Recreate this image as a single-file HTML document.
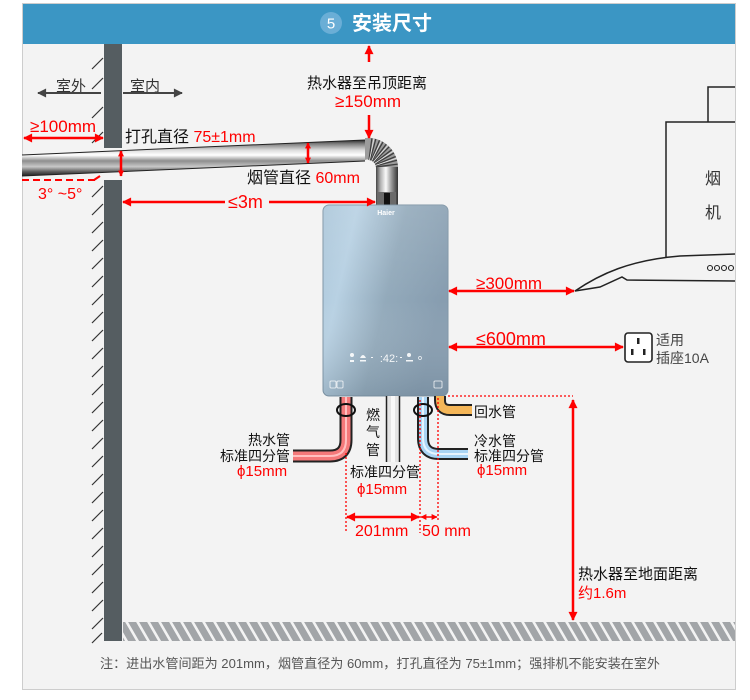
<!DOCTYPE html>
<html><head><meta charset="utf-8"><style>
html,body{margin:0;padding:0;background:#fff;}
svg{display:block;}
text{font-family:"Liberation Sans","Noto Sans CJK SC",sans-serif;}
</style></head><body>
<svg width="750" height="700" viewBox="0 0 750 700" xmlns="http://www.w3.org/2000/svg">
<defs>
<marker id="ar" viewBox="0 0 10 10" refX="9" refY="5" markerWidth="10" markerHeight="9" markerUnits="userSpaceOnUse" orient="auto-start-reverse"><path d="M0,0 L10,5 L0,10z" fill="#f00"/></marker>
<marker id="as" viewBox="0 0 10 10" refX="9" refY="5" markerWidth="6" markerHeight="6" markerUnits="userSpaceOnUse" orient="auto-start-reverse"><path d="M0,0 L10,5 L0,10z" fill="#f00"/></marker>
<marker id="ad" viewBox="0 0 10 10" refX="9" refY="5" markerWidth="10" markerHeight="9" markerUnits="userSpaceOnUse" orient="auto-start-reverse"><path d="M0,0 L10,5 L0,10z" fill="#444"/></marker>
<linearGradient id="pg" x1="0" y1="0" x2="0" y2="1">
<stop offset="0" stop-color="#2a2a2a"/><stop offset="0.1" stop-color="#7a7a7a"/><stop offset="0.28" stop-color="#dcdcdc"/><stop offset="0.42" stop-color="#fff"/><stop offset="0.58" stop-color="#8e8e8e"/><stop offset="0.74" stop-color="#c8c8c8"/><stop offset="0.88" stop-color="#5c5c5c"/><stop offset="1" stop-color="#1e1e1e"/>
</linearGradient>
<linearGradient id="vg" x1="0" y1="0" x2="1" y2="0">
<stop offset="0" stop-color="#444"/><stop offset="0.2" stop-color="#b0b0b0"/><stop offset="0.45" stop-color="#fafafa"/><stop offset="0.7" stop-color="#999"/><stop offset="1" stop-color="#333"/>
</linearGradient>
<linearGradient id="hg" x1="0" y1="0" x2="1" y2="0.35">
<stop offset="0" stop-color="#abc6d9"/><stop offset="0.25" stop-color="#b8d1e3"/><stop offset="0.6" stop-color="#93aabb"/><stop offset="1" stop-color="#879db0"/>
</linearGradient>
<linearGradient id="hg2" x1="0" y1="0" x2="0" y2="1">
<stop offset="0" stop-color="#fff" stop-opacity="0.1"/><stop offset="0.5" stop-color="#fff" stop-opacity="0"/><stop offset="1" stop-color="#4a6070" stop-opacity="0.2"/>
</linearGradient>
<pattern id="fl" width="11" height="20" patternUnits="userSpaceOnUse" patternTransform="skewX(30)">
<rect x="0" y="0" width="11" height="20" fill="#f3f3f3"/><rect x="0" y="0" width="8" height="20" fill="#a2a5a8"/>
</pattern>
</defs>

<rect x="22.5" y="3.5" width="713" height="686" fill="#f3f3f3" stroke="#cdcdcd"/>
<rect x="23" y="4" width="712" height="40" fill="#3b96c4"/>
<circle cx="331" cy="23" r="11" fill="#6aaed6"/>
<text x="331" y="28.5" font-size="15" fill="#fff" text-anchor="middle">5</text>
<text x="352" y="30" font-size="20" fill="#fff" font-weight="bold">安装尺寸</text>

<rect x="104" y="44" width="18" height="104" fill="#555d61"/>
<rect x="104" y="180" width="18" height="461" fill="#555d61"/>
<g stroke="#333" stroke-width="1.2">
<line x1="92" y1="69" x2="103" y2="58"/>
<line x1="92" y1="89" x2="103" y2="78"/>
<line x1="92" y1="118" x2="103" y2="107"/>
<line x1="92" y1="143" x2="103" y2="132"/>
<line x1="92" y1="197" x2="103" y2="186"/>
<line x1="92" y1="215" x2="103" y2="204"/>
<line x1="92" y1="233" x2="103" y2="222"/>
<line x1="92" y1="251" x2="103" y2="240"/>
<line x1="92" y1="269" x2="103" y2="258"/>
<line x1="92" y1="287" x2="103" y2="276"/>
<line x1="92" y1="305" x2="103" y2="294"/>
<line x1="92" y1="323" x2="103" y2="312"/>
<line x1="92" y1="341" x2="103" y2="330"/>
<line x1="92" y1="359" x2="103" y2="348"/>
<line x1="92" y1="377" x2="103" y2="366"/>
<line x1="92" y1="395" x2="103" y2="384"/>
<line x1="92" y1="413" x2="103" y2="402"/>
<line x1="92" y1="431" x2="103" y2="420"/>
<line x1="92" y1="449" x2="103" y2="438"/>
<line x1="92" y1="467" x2="103" y2="456"/>
<line x1="92" y1="485" x2="103" y2="474"/>
<line x1="92" y1="503" x2="103" y2="492"/>
<line x1="92" y1="521" x2="103" y2="510"/>
<line x1="92" y1="539" x2="103" y2="528"/>
<line x1="92" y1="557" x2="103" y2="546"/>
<line x1="92" y1="575" x2="103" y2="564"/>
<line x1="92" y1="593" x2="103" y2="582"/>
<line x1="92" y1="611" x2="103" y2="600"/>
<line x1="92" y1="629" x2="103" y2="618"/>
<line x1="92" y1="643" x2="102" y2="633"/>
</g>
<rect x="123" y="622" width="612" height="19" fill="url(#fl)"/>

<text x="56" y="91" font-size="15" fill="#333">室外</text>
<text x="130" y="91" font-size="15" fill="#333">室内</text>
<line x1="101" y1="93" x2="38" y2="93" stroke="#444" stroke-width="2" marker-end="url(#ad)"/>
<line x1="123" y1="93" x2="182" y2="93" stroke="#444" stroke-width="2" marker-end="url(#ad)"/>

<polygon points="22,155 365,140 365,161 22,176" fill="url(#pg)"/>
<line x1="22" y1="155" x2="365" y2="140" stroke="#222" stroke-width="1"/>
<line x1="22" y1="176" x2="365" y2="161" stroke="#222" stroke-width="1"/>
<path d="M365,138 A30,30 0 0 1 398,168 L376,168 A8,8 0 0 0 365,160 Z" fill="#9c9c9c"/>
<g stroke="#3e3e3e" stroke-width="1.3">
<line x1="369" y1="160.1" x2="371.9" y2="138.3"/>
<line x1="370.1" y1="160.3" x2="375.8" y2="139"/>
<line x1="371.1" y1="160.6" x2="379.5" y2="140.3"/>
<line x1="372" y1="161.1" x2="383" y2="142"/>
<line x1="372.9" y1="161.7" x2="386.3" y2="144.2"/>
<line x1="373.7" y1="162.3" x2="389.2" y2="146.8"/>
<line x1="374.3" y1="163.1" x2="391.8" y2="149.7"/>
<line x1="374.9" y1="164" x2="394" y2="153"/>
<line x1="375.4" y1="164.9" x2="395.7" y2="156.5"/>
<line x1="375.7" y1="165.9" x2="397" y2="160.2"/>
<line x1="375.9" y1="167" x2="397.7" y2="164.1"/>
</g>
<g stroke="#e8e8e8" stroke-width="0.8">
<line x1="369.5" y1="160.2" x2="373.9" y2="138.6"/>
<line x1="371.6" y1="160.8" x2="381.2" y2="141.1"/>
<line x1="373.3" y1="162" x2="387.8" y2="145.5"/>
<line x1="374.6" y1="163.5" x2="392.9" y2="151.3"/>
<line x1="375.6" y1="165.4" x2="396.4" y2="158.3"/>
</g>
<rect x="376" y="167" width="22" height="38" fill="url(#vg)"/>
<rect x="378" y="192" width="18" height="13" fill="#6a6a6a"/>
<rect x="384" y="193" width="6" height="12" fill="#111"/>

<rect x="323" y="205" width="125" height="191" rx="6" fill="url(#hg)" stroke="#7f95a6" stroke-width="1"/>
<rect x="323" y="205" width="125" height="191" rx="6" fill="url(#hg2)"/>
<text x="386" y="215" font-size="7" fill="#fff" font-weight="bold" text-anchor="middle">Haier</text>
<g fill="#fff" opacity="0.9">
<circle cx="352" cy="355" r="2"/><rect x="350" y="360" width="4" height="2"/>
<path d="M360,358 Q363,352 366,358 Z"/><rect x="360" y="360" width="6" height="1.5"/>
<rect x="371" y="357" width="2" height="1"/>
<text x="389" y="362" font-size="11" text-anchor="middle">:42:</text>
<rect x="400" y="357" width="2" height="1"/>
<circle cx="409" cy="355" r="2"/><rect x="406" y="360" width="7" height="1.5"/>
<circle cx="420" cy="358" r="1.5" fill="none" stroke="#fff" stroke-width="0.7"/>
<rect x="330" y="381" width="6" height="7" rx="1" fill="none" stroke="#fff" stroke-width="0.8"/>
<rect x="337" y="381" width="6" height="7" rx="1" fill="none" stroke="#fff" stroke-width="0.8"/>
<rect x="434" y="381" width="8" height="7" rx="1" fill="none" stroke="#fff" stroke-width="0.8"/>
</g>

<path d="M346,397 L346,440 Q346,456 330,456 L293,456" fill="none" stroke="#222" stroke-width="13"/>
<path d="M346,397 L346,440 Q346,456 330,456 L293,456" fill="none" stroke="#f4797a" stroke-width="9"/>
<path d="M346,397 L346,440 Q346,456 330,456 L293,456" fill="none" stroke="#ffc0c0" stroke-width="2"/>
<rect x="386" y="396" width="14" height="66" fill="#e4e4e4"/>
<rect x="391" y="396" width="4" height="66" fill="#f8f8f8"/>
<line x1="386.5" y1="396" x2="386.5" y2="462" stroke="#222" stroke-width="1.5"/>
<line x1="399.5" y1="396" x2="399.5" y2="462" stroke="#222" stroke-width="1.5"/>
<path d="M423,397 L423,438 Q423,454 439,454 L468,454" fill="none" stroke="#222" stroke-width="12"/>
<path d="M423,397 L423,438 Q423,454 439,454 L468,454" fill="none" stroke="#a9d4f4" stroke-width="8"/>
<path d="M423,397 L423,438 Q423,454 439,454 L468,454" fill="none" stroke="#e6f3fd" stroke-width="2"/>
<path d="M440,396 L440,400 Q440,410 450,410 L472,410" fill="none" stroke="#222" stroke-width="12"/>
<path d="M440,396 L440,400 Q440,410 450,410 L472,410" fill="none" stroke="#f4b658" stroke-width="8"/>
<ellipse cx="346" cy="410" rx="9" ry="6" fill="none" stroke="#111" stroke-width="2"/>
<ellipse cx="423" cy="410" rx="9" ry="6" fill="none" stroke="#111" stroke-width="2"/>

<g stroke="#f00" stroke-width="1.3" stroke-dasharray="2,2" fill="none">
<line x1="346" y1="453" x2="346" y2="533"/>
<line x1="420" y1="400" x2="420" y2="533"/>
<line x1="438" y1="398" x2="438" y2="520"/>
<line x1="448" y1="396" x2="573" y2="396"/>
</g>
<line x1="22" y1="180" x2="98" y2="180" stroke="#f00" stroke-width="2" stroke-dasharray="7,4"/>
<path d="M94,180 L100,176" stroke="#f00" stroke-width="2"/>

<g stroke="#f00" stroke-width="2.5" fill="none">
<line x1="369" y1="62" x2="369" y2="46" marker-end="url(#ar)"/>
<line x1="369" y1="115" x2="369" y2="138" marker-end="url(#ar)"/>
<line x1="24" y1="138" x2="103" y2="138" marker-start="url(#ar)" marker-end="url(#ar)"/>
<line x1="121" y1="151" x2="121" y2="176" marker-start="url(#as)" marker-end="url(#as)"/>
<line x1="308" y1="143" x2="308" y2="163" marker-start="url(#as)" marker-end="url(#as)"/>
<line x1="123" y1="202" x2="225" y2="202" marker-start="url(#ar)"/>
<line x1="269" y1="202" x2="375" y2="202" marker-end="url(#ar)"/>
<line x1="449" y1="291" x2="574" y2="291" marker-start="url(#ar)" marker-end="url(#ar)"/>
<line x1="449" y1="347" x2="623" y2="347" marker-start="url(#ar)" marker-end="url(#ar)"/>
<line x1="573" y1="400" x2="573" y2="620" marker-start="url(#ar)" marker-end="url(#ar)"/>
<line x1="347" y1="517" x2="419" y2="517" marker-start="url(#ar)" marker-end="url(#ar)"/>
<line x1="421" y1="517" x2="437" y2="517" stroke-width="1.5" marker-start="url(#as)" marker-end="url(#as)"/>
</g>

<g stroke="#222" stroke-width="1.5" fill="none">
<path d="M708,122 L708,87 L735,87"/>
<path d="M666,257 L666,122 L735,122"/>
<path d="M575,291 C600,274 630,260 680,256 L735,254"/>
<path d="M575,291 L600,287 L622,277 L627,280 L735,281"/>
</g>
<g stroke="#222" stroke-width="1.1" fill="none">
<circle cx="710" cy="268" r="2.5"/><circle cx="717" cy="268" r="2.5"/><circle cx="724" cy="268" r="2.5"/><circle cx="731" cy="268" r="2.5"/>
</g>
<line x1="735.5" y1="44" x2="735.5" y2="689" stroke="#cdcdcd"/>
<text x="713" y="184" font-size="16" fill="#333" text-anchor="middle">烟</text>
<text x="713" y="218" font-size="16" fill="#333" text-anchor="middle">机</text>

<rect x="625" y="333" width="27" height="29" rx="3" fill="#fff" stroke="#222" stroke-width="1.6"/>
<rect x="637" y="338" width="2.5" height="6" fill="#222"/>
<rect x="631" y="349" width="2.5" height="6" fill="#222"/>
<rect x="643" y="349" width="2.5" height="6" fill="#222"/>
<text x="656" y="345" font-size="14" fill="#444">适用</text>
<text x="656" y="363" font-size="14" fill="#444">插座10A</text>

<text x="307" y="88" font-size="15" fill="#111">热水器至吊顶距离</text>
<text x="335" y="107" font-size="17" fill="#f00">≥150mm</text>
<text x="30" y="132" font-size="17" fill="#f00">≥100mm</text>
<text x="125" y="142" font-size="16" fill="#111">打孔直径 <tspan fill="#f00">75±1mm</tspan></text>
<text x="247" y="183" font-size="16" fill="#111">烟管直径 <tspan fill="#f00">60mm</tspan></text>
<text x="38" y="199" font-size="16" fill="#f00">3°  ~5°</text>
<text x="228" y="208" font-size="18" fill="#f00">≤3m</text>
<text x="476" y="289" font-size="17" fill="#f00">≥300mm</text>
<text x="476" y="345" font-size="18" fill="#f00">≤600mm</text>

<text x="474" y="417" font-size="14" fill="#111">回水管</text>
<text x="474" y="446" font-size="14" fill="#111">冷水管</text>
<text x="474" y="461" font-size="14" fill="#111">标准四分管</text>
<text x="477" y="475" font-size="15" fill="#f00">ϕ15mm</text>

<text x="290" y="445" font-size="14" fill="#111" text-anchor="end">热水管</text>
<text x="290" y="461" font-size="14" fill="#111" text-anchor="end">标准四分管</text>
<text x="237" y="476" font-size="15" fill="#f00">ϕ15mm</text>

<text x="373" y="420" font-size="14" fill="#111" text-anchor="middle">燃</text>
<text x="373" y="437" font-size="14" fill="#111" text-anchor="middle">气</text>
<text x="373" y="455" font-size="14" fill="#111" text-anchor="middle">管</text>
<text x="350" y="477" font-size="14" fill="#111">标准四分管</text>
<text x="357" y="494" font-size="15" fill="#f00">ϕ15mm</text>

<text x="355" y="536" font-size="16" fill="#f00">201mm</text>
<text x="422" y="536" font-size="16" fill="#f00">50 mm</text>

<text x="578" y="579" font-size="15" fill="#111">热水器至地面距离</text>
<text x="578" y="598" font-size="15" fill="#f00">约1.6m</text>

<text x="100" y="668" font-size="13" fill="#555" textLength="560" lengthAdjust="spacingAndGlyphs">注：进出水管间距为 201mm，烟管直径为 60mm，打孔直径为 75±1mm；强排机不能安装在室外</text>
</svg>
</body></html>
